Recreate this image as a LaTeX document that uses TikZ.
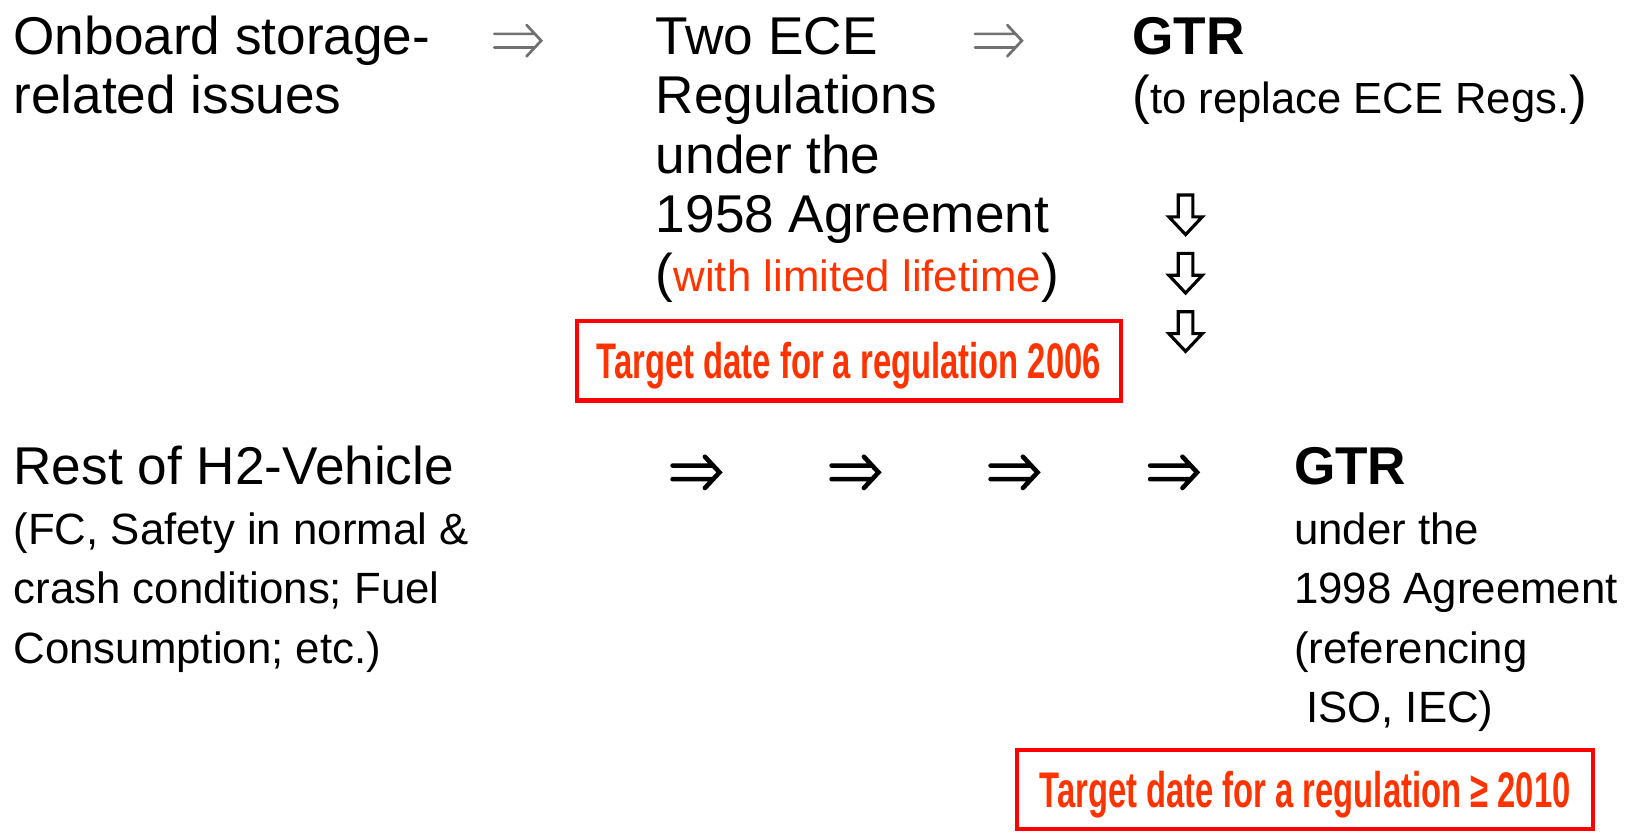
\documentclass[tikz,border=0pt]{standalone}
\usepackage{fontspec}
\setmainfont{Liberation Sans}
\newfontfamily\condfont[FakeStretch=0.655]{Liberation Sans}
\definecolor{tred}{HTML}{FF3300}
\definecolor{boxred}{HTML}{FF0000}
\definecolor{arrgray}{HTML}{707070}
\newcommand\bigpar[1]{{\fontsize{51}{57}\selectfont #1}}

\tikzset{
  txt/.style={anchor=base west, inner sep=0pt, outer sep=0pt},
  big/.style={font=\fontsize{51}{57}\selectfont},
  target/.style={draw=boxred, line width=4pt, inner sep=0pt, text=tred,
    font={\condfont\bfseries\fontsize{48}{48}\selectfont},
    text height=34pt, text depth=0pt},
  thinimp/.style={draw=arrgray, line width=2.6pt, line cap=round, line join=miter},
  boldimp/.style={draw=black, line width=4.4pt, line cap=round, line join=miter},
  hollow/.style={draw=black, line width=3pt, fill=white, line join=miter},
  % double arrow (implies sign), tip at the right end
  dblarrow/.pic={
    \draw (-22.5,-6.5) -- (16.5,-6.5) (-22.5,6.5) -- (16.5,6.5)
          (8.5,-15) -- (22.5,0) -- (8.5,15);
  },
  % hollow block arrow pointing down, top centre at the origin
  downarrow/.pic={
    \path[hollow] (-7,0) -- (7,0) -- (7,21) -- (16,21) -- (0,38)
                  -- (-16,21) -- (-7,21) -- cycle;
  }
}

\begin{document}
\begin{tikzpicture}[x=1pt, y=-1pt]
\useasboundingbox (0,0) rectangle (1568,798);

% upper row
\node[txt, big] (onboard) at (13,52)
  {\begin{tabular}[t]{@{}l@{}}Onboard storage-\\related issues\end{tabular}};
\node[txt, big] (ece) at (629,52)
  {\begin{tabular}[t]{@{}l@{}}Two ECE\\Regulations\\under the\\1958 Agreement\\
   \fontsize{42}{57}\selectfont \bigpar{(}\textcolor{tred}{with limited lifetime}\bigpar{)}\end{tabular}};
\node[txt, big] (gtrtop) at (1086,52)
  {\begin{tabular}[t]{@{}l@{}}\bfseries GTR\\
   \fontsize{41.8}{57}\selectfont \bigpar{(}to replace ECE Regs.\bigpar{)}\end{tabular}};

\pic[thinimp] at (496.5,39) {dblarrow};
\pic[thinimp] at (957.5,39) {dblarrow};

\pic at (1137,187) {downarrow};
\pic at (1137,243) {downarrow};
\pic at (1137,299) {downarrow};

\node[target, minimum width=522pt, minimum height=76pt] (date1) at (814,346)
  {Target date for a regulation 2006};

% lower row
\node[txt, big] (rest) at (13,465)
  {\begin{tabular}[t]{@{}l@{}}Rest of H2-Vehicle\\
   \fontsize{42}{57}\selectfont (FC, Safety in normal \&\\
   \fontsize{42}{57}\selectfont crash conditions; Fuel\\
   \fontsize{42}{57}\selectfont Consumption; etc.)\end{tabular}};
\node[txt, big] (gtrbot) at (1241,465)
  {\begin{tabular}[t]{@{}l@{}}\bfseries GTR\\
   \fontsize{42}{57}\selectfont under the\\
   \fontsize{42}{57}\selectfont 1998 Agreement\\
   \fontsize{42}{57}\selectfont (referencing\\
   \fontsize{42}{57}\selectfont \ ISO, IEC)\end{tabular}};

\pic[boldimp] at (667.5,453) {dblarrow};
\pic[boldimp] at (820,453) {dblarrow};
\pic[boldimp] at (972.5,453) {dblarrow};
\pic[boldimp] at (1125.5,453) {dblarrow};

\node[target, minimum width=553pt, minimum height=76pt] (date2) at (1251.5,757)
  {Target date for a regulation ≥ 2010};
\end{tikzpicture}
\end{document}
